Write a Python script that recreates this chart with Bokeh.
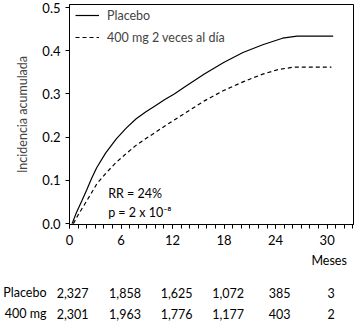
from bokeh.plotting import figure
from bokeh.layouts import column
from bokeh.models import (Range1d, Legend, LegendItem, Label, SingleIntervalTicker, FixedTicker,
                          CustomJSTickFormatter, LinearAxis)
from bokeh.core.properties import value
from bokeh.embed import file_html
from bokeh.resources import INLINE

FONT = "Lato"
FS = "12.5px"

# Cumulative incidence curves
placebo_months = [0.3, 0.8, 1.44, 2.0, 2.58, 3.18, 4.2, 5.45, 6.6, 7.73, 8.9, 10.0, 11.1, 12.2, 13.4, 15.7, 17.95, 20.2, 22.5, 24.8, 26.5, 30.7]
placebo_inc    = [0.0, 0.025, 0.053, 0.078, 0.105, 0.130, 0.163, 0.196, 0.221, 0.242, 0.259, 0.273, 0.287, 0.300, 0.316, 0.346, 0.373, 0.396, 0.414, 0.429, 0.434, 0.434]
drug_months = [0.45, 1.0, 1.8, 2.5, 3.18, 4.3, 5.45, 6.6, 7.73, 8.9, 10.0, 11.1, 12.2, 13.4, 15.7, 17.95, 20.2, 22.5, 24.4, 26.1, 30.5]
drug_inc    = [0.0, 0.020, 0.046, 0.069, 0.092, 0.118, 0.142, 0.162, 0.181, 0.197, 0.211, 0.226, 0.240, 0.255, 0.284, 0.308, 0.328, 0.346, 0.357, 0.362, 0.362]

# Risk table
table_months = [0, 6, 12, 18, 24, 30]
placebo_n = ["2,327", "1,858", "1,625", "1,072", "385", "3"]
drug_n    = ["2,301", "1,963", "1,776", "1,177", "403", "2"]
row_labels = ["Placebo", "400 mg"]

series_labels = ["Placebo", "400 mg 2 veces al día"]
stat_lines = ["RR = 24%", "p = 2 x 10⁻⁸"]

PX_PER_MONTH = 8.8
X_MAX = 291 / PX_PER_MONTH

p = figure(width=354, height=250, output_backend="svg", toolbar_location=None,
           x_range=Range1d(0, X_MAX), y_range=Range1d(-0.002, 0.507),
           min_border_left=62, min_border_right=1, min_border_top=4, min_border_bottom=26)
p.grid.visible = False
p.outline_line_color = "black"
p.outline_line_width = 1
p.background_fill_color = "white"
p.border_fill_color = "white"

r1 = p.line(placebo_months, placebo_inc, line_color="black", line_width=1.2)
r2 = p.line(drug_months, drug_inc, line_color="black", line_width=1.2, line_dash="4 3")

p.xaxis.ticker = SingleIntervalTicker(interval=6, num_minor_ticks=6)
p.yaxis.ticker = SingleIntervalTicker(interval=0.1, num_minor_ticks=0)
p.yaxis.formatter = CustomJSTickFormatter(code="return tick.toFixed(1);")
for ax in (p.xaxis[0], p.yaxis[0]):
    ax.axis_line_color = "black"
    ax.major_tick_line_color = "black"
    ax.minor_tick_line_color = "black"
    ax.major_tick_out = 4
    ax.major_tick_in = 0
    ax.minor_tick_out = 4
    ax.minor_tick_in = 0
    ax.major_label_text_font = FONT
    ax.major_label_text_font_size = "13px"
    ax.major_label_text_color = "black"
p.yaxis.minor_tick_line_color = None
p.xaxis.major_label_standoff = 6
p.yaxis.major_label_standoff = 5
p.yaxis.axis_label = "Incidencia acumulada"
p.yaxis.axis_label_text_font = FONT
p.yaxis.axis_label_text_font_size = FS
p.yaxis.axis_label_text_font_style = "normal"
p.yaxis.axis_label_standoff = 9

legend = Legend(items=[LegendItem(label=series_labels[0], renderers=[r1]),
                       LegendItem(label=series_labels[1], renderers=[r2])],
                location=(6, 177), border_line_color=None, background_fill_alpha=0,
                margin=0, padding=0, spacing=2, glyph_width=24, label_standoff=8,
                label_text_font=FONT, label_text_font_size=FS, label_height=20, glyph_height=20)
p.add_layout(legend)

for i, txt in enumerate(stat_lines):
    p.add_layout(Label(x=4.5, y=0.069 - i * 0.044, text=txt, text_font=FONT, text_font_size=FS,
                       text_baseline="middle", text_align="left", text_color="black"))

# Risk table figure: shares the month axis
ROW_Y = [42, 63]
t = figure(width=354, height=74, output_backend="svg", toolbar_location=None,
           x_range=p.x_range, y_range=Range1d(74, 0), x_axis_location=None,
           min_border_left=62, min_border_right=1, min_border_top=0, min_border_bottom=0)
t.grid.visible = False
t.outline_line_color = None
t.background_fill_color = "white"
t.border_fill_color = "white"


def style_label_axis(ax, labels, standoff):
    ax.ticker = FixedTicker(ticks=ROW_Y)
    ax.major_label_overrides = {ROW_Y[0]: labels[0], ROW_Y[1]: labels[1]}
    ax.axis_line_color = None
    ax.major_tick_line_color = None
    ax.minor_tick_line_color = None
    ax.major_tick_out = 0
    ax.major_tick_in = 0
    ax.minor_tick_out = 0
    ax.minor_tick_in = 0
    ax.major_label_text_font = FONT
    ax.major_label_text_font_size = FS
    ax.major_label_text_color = "black"
    ax.major_label_standoff = standoff


# inner left axis: counts at month 0 (reaching across the axis line, as in the original)
style_label_axis(t.yaxis[0], [placebo_n[0], drug_n[0]], -19)
# outer left axis: row names
names_axis = LinearAxis()
style_label_axis(names_axis, row_labels, 7)
t.add_layout(names_axis, "left")

t.text(x=[30], y=[10], text=["Meses"], text_font=value(FONT), text_font_size=FS,
       text_align="center", text_baseline="middle", x_offset=2)
t.text(x=table_months[1:], y=[ROW_Y[0]] * 5, text=placebo_n[1:], text_font=value(FONT),
       text_font_size=FS, text_align="center", text_baseline="middle", x_offset=4)
t.text(x=table_months[1:], y=[ROW_Y[1]] * 5, text=drug_n[1:], text_font=value(FONT),
       text_font_size=FS, text_align="center", text_baseline="middle", x_offset=4)

layout = column(p, t, spacing=0)
open("out.html", "w").write(file_html(layout, INLINE))
